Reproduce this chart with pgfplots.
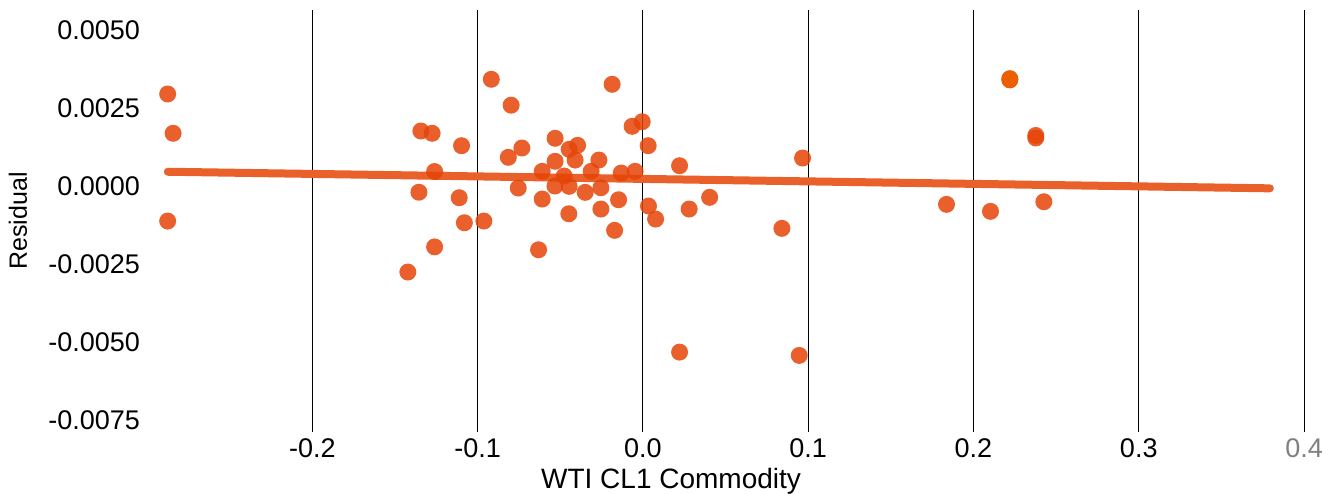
\documentclass[border=0pt]{standalone}
\usepackage{pgfplots}
\pgfplotsset{compat=1.18}
\usepackage{fontspec}
\setmainfont{Liberation Sans}
\definecolor{dot}{RGB}{230,68,7}
\definecolor{hot}{RGB}{235,95,2}
\definecolor{fitline}{RGB}{234,96,42}

\begin{document}
\begin{tikzpicture}
\begin{axis}[
  name=ax,
  scale only axis, width=581pt, height=211pt,
  xmin=-0.30, xmax=0.403, ymin=-0.00788, ymax=0.00564,
  axis line style={draw=none},
  tick style={draw=none},
  scaled x ticks=false, scaled y ticks=false,
  xtick={-0.2,-0.1,0,0.1,0.2,0.3,0.4},
  xticklabels={-0.2,-0.1,0.0,0.1,0.2,0.3,\textcolor{gray}{0.4}},
  ytick={-0.0075,-0.005,-0.0025,0,0.0025,0.005},
  yticklabels={-0.0075,-0.0050,-0.0025,0.0000,0.0025,0.0050},
  ticklabel style={font=\fontsize{13.5}{16}\selectfont},
  xmajorgrids, major grid style={black, line width=0.5pt},
  xlabel={WTI CL1 Commodity}, ylabel={Residual},
  every axis x label/.style={at={(rel axis cs:0.451,-0.116)}, anchor=center, font=\fontsize{14}{16}\selectfont},
  every axis y label/.style={at={(rel axis cs:-0.111,0.5)}, anchor=center, rotate=90, font=\fontsize{12.5}{15}\selectfont},
  clip=false,
]
% fitted line
\addplot[fitline, line width=4pt, line cap=round] coordinates {(-0.2874,0.000458) (0.3793,-0.0000737)};
% residuals
\addplot[only marks, color=dot, mark=*, mark size=4.25pt, mark options={fill=dot, fill opacity=0.85, draw opacity=0}] coordinates {
(-0.2875,0.002949) (-0.2842,0.001689) (-0.2875,-0.001122)
(-0.1343,0.001763) (-0.1275,0.001689) (-0.1097,0.001292) (-0.1260,0.000465)
(-0.1355,-0.000199) (-0.1111,-0.000375) (-0.1080,-0.001176) (-0.0962,-0.001122)
(-0.1260,-0.001949) (-0.1422,-0.002756)
(-0.0917,0.003420) (-0.0797,0.002590) (-0.0814,0.000920) (-0.0732,0.001218)
(-0.0754,-0.000064) (-0.0531,0.001529) (-0.0446,0.001176) (-0.0395,0.001304)
(-0.0531,0.000792) (-0.0410,0.000833) (-0.0609,0.000471) (-0.0266,0.000833)
(-0.0313,0.000471) (-0.0476,0.000321) (-0.0532,0.0) (-0.0446,-0.0000096)
(-0.0349,-0.000202) (-0.0254,-0.0000545) (-0.0609,-0.000417) (-0.0147,-0.000439)
(-0.0448,-0.000888) (-0.0254,-0.000737) (-0.0631,-0.002042) (-0.0171,-0.001420)
(-0.0186,0.003260) (-0.0065,0.001913) (-0.0004,0.002061) (0.0032,0.001292)
(-0.0131,0.000417) (-0.0047,0.000471) (0.0222,0.000651) (0.0034,-0.000641)
(0.0077,-0.001058) (0.0280,-0.000737) (0.0404,-0.000362)
(0.0966,0.000897) (0.0841,-0.001356) (0.0222,-0.005321) (0.0946,-0.005426)
(0.1837,-0.000587) (0.2103,-0.000811) (0.2426,-0.000503)
(0.2377,0.001620) (0.2377,0.001540)
};
\addplot[only marks, color=hot, mark=*, mark size=4.25pt, mark options={fill=hot, draw opacity=0}] coordinates {
(0.2220,0.003440) (0.2220,0.003400)
};
\end{axis}
\pgfresetboundingbox
\path[use as bounding box] ([xshift=-73.5pt,yshift=-30.5pt]ax.south west) rectangle ([xshift=12.5pt,yshift=5pt]ax.north east);
\end{tikzpicture}
\end{document}
